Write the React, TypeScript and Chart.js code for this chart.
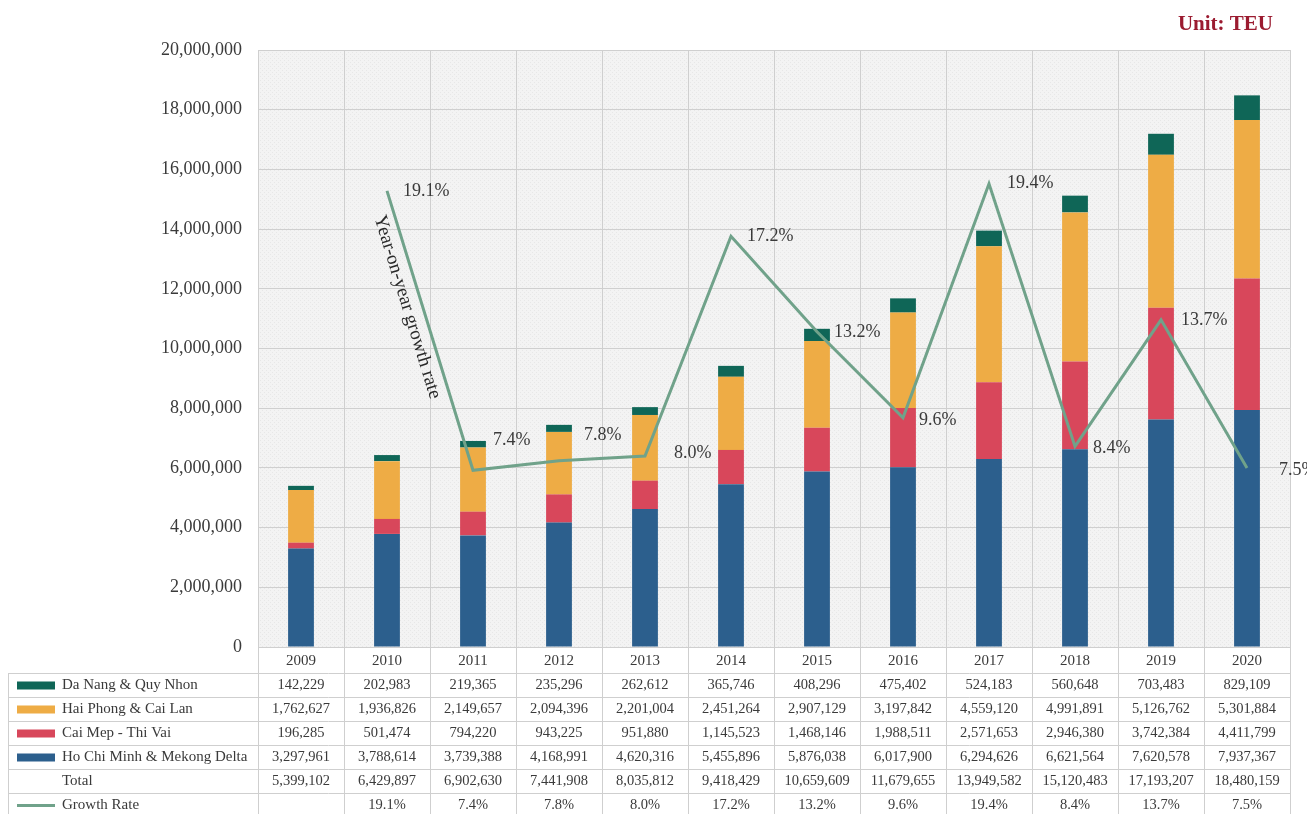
import React, { useEffect, useRef } from 'react';
import { Chart, registerables } from 'chart.js';

Chart.register(...registerables);

// ---- data ----
const years = ['2009', '2010', '2011', '2012', '2013', '2014', '2015', '2016', '2017', '2018', '2019', '2020'];
const daNang = [142229, 202983, 219365, 235296, 262612, 365746, 408296, 475402, 524183, 560648, 703483, 829109];
const haiPhong = [1762627, 1936826, 2149657, 2094396, 2201004, 2451264, 2907129, 3197842, 4559120, 4991891, 5126762, 5301884];
const caiMep = [196285, 501474, 794220, 943225, 951880, 1145523, 1468146, 1988511, 2571653, 2946380, 3742384, 4411799];
const hcm = [3297961, 3788614, 3739388, 4168991, 4620316, 5455896, 5876038, 6017900, 6294626, 6621564, 7620578, 7937367];
const totals = [5399102, 6429897, 6902630, 7441908, 8035812, 9418429, 10659609, 11679655, 13949582, 15120483, 17193207, 18480159];
const growth: (number | null)[] = [null, 19.1, 7.4, 7.8, 8.0, 17.2, 13.2, 9.6, 19.4, 8.4, 13.7, 7.5];
const yMax = 20000000;
const yStep = 2000000;
const growthAxisMax = 25;

// ---- styles ----
const C_DANANG = '#0f6657';
const C_HAIPHONG = '#eeac45';
const C_CAIMEP = '#d8475b';
const C_HCM = '#2c5f8d';
const C_GROWTH = '#70a28a';
const GRID = '#cfcfcf';
const TEXT = '#3a3a3a';
const SERIF = '"Liberation Serif", "Times New Roman", serif';
// label offsets (dx, dy) in px for the growth labels
const labelOffsets = [[0, 0], [16, 0], [20, -30], [25, -25], [29, -3], [16, 0], [17, 0], [16, 3], [18, 0], [18, 2], [20, 0], [32, 2]];

const fmt = (n: number) => n.toLocaleString('en-US');

const tableRows = [
  { label: 'Da Nang & Quy Nhon', key: 'box', color: C_DANANG, values: daNang.map(fmt) },
  { label: 'Hai Phong & Cai Lan', key: 'box', color: C_HAIPHONG, values: haiPhong.map(fmt) },
  { label: 'Cai Mep - Thi Vai', key: 'box', color: C_CAIMEP, values: caiMep.map(fmt) },
  { label: 'Ho Chi Minh & Mekong Delta', key: 'box', color: C_HCM, values: hcm.map(fmt) },
  { label: 'Total', key: 'none', color: '', values: totals.map(fmt) },
  { label: 'Growth Rate', key: 'line', color: C_GROWTH, values: growth.map((g) => (g == null ? '' : g.toFixed(1) + '%')) },
];

function makePattern(ctx: CanvasRenderingContext2D) {
  const pc = document.createElement('canvas');
  pc.width = 4;
  pc.height = 4;
  const p = pc.getContext('2d')!;
  p.fillStyle = '#f3f3f3';
  p.fillRect(0, 0, 4, 4);
  p.fillStyle = '#e7e7e7';
  p.fillRect(0, 0, 1, 1);
  p.fillRect(2, 2, 1, 1);
  return ctx.createPattern(pc, 'repeat');
}

const decorPlugin = {
  id: 'decor',
  beforeDraw(chart: any) {
    const { ctx, chartArea } = chart;
    ctx.save();
    ctx.fillStyle = makePattern(ctx) || '#f1f1f1';
    ctx.fillRect(chartArea.left, chartArea.top, chartArea.right - chartArea.left, chartArea.bottom - chartArea.top);
    ctx.restore();
  },
  afterDraw(chart: any) {
    const { ctx, chartArea } = chart;
    const xs = chart.scales.x;
    const n = years.length;
    const colW = (chartArea.right - chartArea.left) / n;
    const headerTop = chartArea.bottom;
    const rowTop = 673;
    const rowH = 24;
    const tableLeft = 8;
    const tableBottom = rowTop + rowH * tableRows.length;

    ctx.save();
    // grid lines of table
    ctx.strokeStyle = GRID;
    ctx.lineWidth = 1;
    ctx.beginPath();
    for (let i = 0; i <= n; i++) {
      const x = Math.round(chartArea.left + i * colW) + 0.5;
      ctx.moveTo(x, headerTop);
      ctx.lineTo(x, tableBottom);
    }
    ctx.moveTo(tableLeft + 0.5, rowTop);
    ctx.lineTo(tableLeft + 0.5, tableBottom);
    for (let r = 0; r <= tableRows.length; r++) {
      const y = Math.round(rowTop + r * rowH) + 0.5;
      ctx.moveTo(tableLeft, y);
      ctx.lineTo(chartArea.right, y);
    }
    ctx.stroke();

    // header (years)
    ctx.fillStyle = TEXT;
    ctx.font = `15px ${SERIF}`;
    ctx.textAlign = 'center';
    ctx.textBaseline = 'middle';
    years.forEach((yr, i) => {
      ctx.fillText(yr, xs.getPixelForValue(i), (headerTop + rowTop) / 2 + 1);
    });

    // rows
    tableRows.forEach((row, r) => {
      const cy = rowTop + r * rowH + rowH / 2 + 0.5;
      if (row.key === 'box') {
        ctx.fillStyle = row.color;
        ctx.fillRect(17, cy - 4, 38, 8);
      } else if (row.key === 'line') {
        ctx.strokeStyle = row.color;
        ctx.lineWidth = 3;
        ctx.beginPath();
        ctx.moveTo(17, cy);
        ctx.lineTo(55, cy);
        ctx.stroke();
      }
      ctx.fillStyle = TEXT;
      ctx.font = `15px ${SERIF}`;
      ctx.textAlign = 'left';
      ctx.fillText(row.label, 62, cy);
      ctx.font = `14.5px ${SERIF}`;
      ctx.textAlign = 'center';
      row.values.forEach((v, i) => {
        if (v) ctx.fillText(v, xs.getPixelForValue(i), cy);
      });
    });

    // growth labels
    const lineMeta = chart.getDatasetMeta(0);
    ctx.font = `18px ${SERIF}`;
    ctx.fillStyle = TEXT;
    ctx.textAlign = 'left';
    ctx.textBaseline = 'middle';
    growth.forEach((g, i) => {
      if (g == null) return;
      const el = lineMeta.data[i];
      const [dx, dy] = labelOffsets[i];
      ctx.fillText(g.toFixed(1) + '%', el.x + dx, el.y + dy);
    });

    // rotated annotation along 2010-2011 segment
    const a = lineMeta.data[1];
    const b = lineMeta.data[2];
    const ddx = b.x - a.x;
    const ddy = b.y - a.y;
    const len = Math.hypot(ddx, ddy);
    const ux = ddx / len;
    const uy = ddy / len;
    const t = 0.4;
    const cx = a.x + ddx * t - uy * 15;
    const cy = a.y + ddy * t + ux * 15;
    ctx.save();
    ctx.translate(cx, cy);
    ctx.rotate(Math.atan2(ddy, ddx));
    ctx.font = `19px ${SERIF}`;
    ctx.fillStyle = '#2a2a2a';
    ctx.textAlign = 'center';
    ctx.textBaseline = 'middle';
    ctx.fillText('Year-on-year growth rate', 0, 0);
    ctx.restore();

    // unit
    ctx.font = `bold 21px ${SERIF}`;
    ctx.fillStyle = '#9b1b30';
    ctx.textAlign = 'right';
    ctx.textBaseline = 'middle';
    ctx.fillText('Unit: TEU', 1273, 25);
    ctx.restore();
  },
};

export default function App() {
  const ref = useRef<HTMLCanvasElement>(null);
  useEffect(() => {
    document.body.style.margin = '0';
    const canvas = ref.current!;
    const chart = new Chart(canvas, {
      type: 'bar',
      data: {
        labels: years,
        datasets: [
          {
            type: 'line',
            label: 'Growth Rate',
            data: growth,
            yAxisID: 'y1',
            borderColor: C_GROWTH,
            backgroundColor: C_GROWTH,
            borderWidth: 3,
            pointRadius: 0,
            tension: 0,
            order: 0,
          } as any,
          { label: 'Ho Chi Minh & Mekong Delta', data: hcm, backgroundColor: C_HCM, order: 1 },
          { label: 'Cai Mep - Thi Vai', data: caiMep, backgroundColor: C_CAIMEP, order: 1 },
          { label: 'Hai Phong & Cai Lan', data: haiPhong, backgroundColor: C_HAIPHONG, order: 1 },
          { label: 'Da Nang & Quy Nhon', data: daNang, backgroundColor: C_DANANG, order: 1 },
        ],
      },
      options: {
        responsive: false,
        animation: false,
        datasets: { bar: { barPercentage: 0.3, categoryPercentage: 1 } },
        layout: { padding: { top: 50, right: 17, bottom: 167, left: 0 } },
        plugins: { legend: { display: false }, tooltip: { enabled: false } },
        scales: {
          x: {
            stacked: true,
            offset: true,
            grid: { offset: true, color: GRID, drawTicks: false },
            border: { color: GRID },
            ticks: { display: false },
            afterFit: (s: any) => { s.height = 0; },
          },
          y: {
            stacked: true,
            min: 0,
            max: yMax,
            grid: { color: GRID, drawTicks: false },
            border: { color: GRID },
            ticks: {
              stepSize: yStep,
              padding: 16,
              color: TEXT,
              font: { family: SERIF, size: 18 },
              callback: (v: any) => fmt(Number(v)),
            },
            afterFit: (s: any) => { s.width = 258; },
          },
          y1: {
            display: false,
            stacked: false,
            min: 0,
            max: growthAxisMax,
          },
        },
      },
      plugins: [decorPlugin],
    });
    return () => chart.destroy();
  }, []);
  return (
    <div style={{ width: 1307, height: 814 }}>
      <canvas ref={ref} width={1307} height={814} style={{ display: 'block' }} />
    </div>
  );
}
